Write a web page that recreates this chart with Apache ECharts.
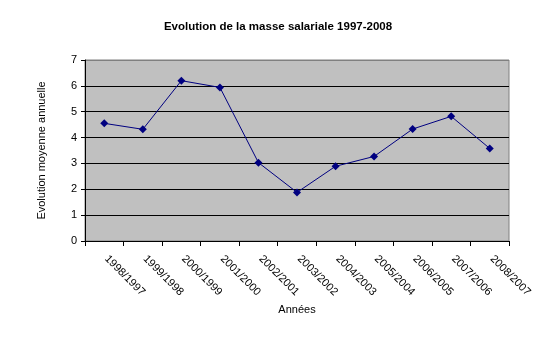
<!DOCTYPE html>
<html><head><meta charset="utf-8">
<script src="https://cdn.jsdelivr.net/npm/echarts@6/dist/echarts.min.js"></script>
<style>html,body{margin:0;padding:0;background:#fff}#c{width:556px;height:355px}</style>
</head><body><div id="c"></div>
<script>
const categories = ['1998/1997','1999/1998','2000/1999','2001/2000','2002/2001','2003/2002','2004/2003','2005/2004','2006/2005','2007/2006','2008/2007'];
const values = [4.55, 4.32, 6.2, 5.94, 3.03, 1.88, 2.89, 3.27, 4.33, 4.82, 3.58];
const titleText = 'Evolution de la masse salariale 1997-2008';
const yName = 'Evolution moyenne annuelle';
const xName = 'Années';
const font = 'Liberation Sans, Arial, sans-serif';
const chart = echarts.init(document.getElementById('c'));
chart.setOption({
  animation: false,
  backgroundColor: '#fff',
  title: {text: titleText, left: 'center', top: 16, textStyle: {fontFamily: font, fontSize: 11.5, fontWeight: 'bold', color: '#000'}},
  grid: {left: 85, right: 47, top: 60, bottom: 114, show: true, backgroundColor: '#C0C0C0', borderColor: '#808080', borderWidth: 1},
  xAxis: {
    type: 'category', data: categories, boundaryGap: true,
    name: xName, nameLocation: 'middle', nameGap: 62,
    nameTextStyle: {fontFamily: font, fontSize: 11, color: '#000'},
    axisLine: {lineStyle: {color: '#000', width: 1}},
    axisTick: {show: true, length: 5, lineStyle: {color: '#000'}},
    axisLabel: {interval: 0, rotate: -45, margin: 14, fontFamily: font, fontSize: 11, color: '#000', padding: [0, 0, 0, 3]},
    splitLine: {show: false}
  },
  yAxis: {
    type: 'value', min: 0, max: 7, interval: 1,
    name: yName, nameLocation: 'middle', nameGap: 38, nameRotate: 90,
    nameTextStyle: {fontFamily: font, fontSize: 11, color: '#000'},
    axisLine: {show: true, lineStyle: {color: '#000', width: 1}},
    axisTick: {show: true, length: 4, lineStyle: {color: '#000'}},
    axisLabel: {margin: 8, fontFamily: font, fontSize: 11, color: '#000'},
    splitLine: {show: true, lineStyle: {color: ['#000','#000','#000','#000','#000','#000','#000','#808080'], width: 1}}
  },
  series: [{
    type: 'line', data: values, symbol: 'diamond', symbolSize: 8,
    lineStyle: {color: '#000080', width: 1},
    itemStyle: {color: '#000080'}
  }]
});
</script></body></html>
